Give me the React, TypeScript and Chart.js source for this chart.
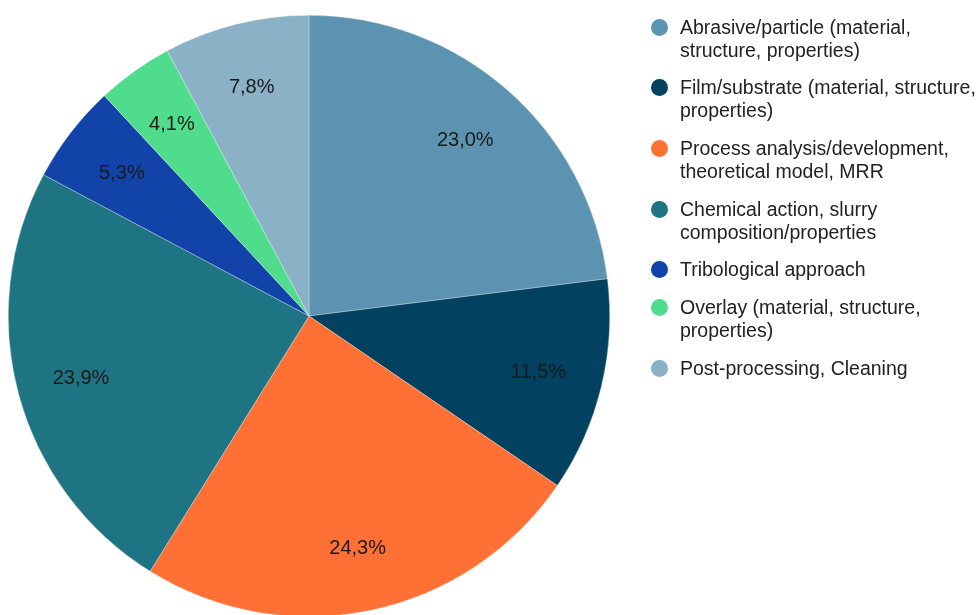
import React, { useEffect, useRef } from "react";
import { Chart, registerables } from "chart.js";

Chart.register(...registerables);

const labels = [
  "Abrasive/particle (material,\nstructure, properties)",
  "Film/substrate (material, structure,\nproperties)",
  "Process analysis/development,\ntheoretical model, MRR",
  "Chemical action, slurry\ncomposition/properties",
  "Tribological approach",
  "Overlay (material, structure,\nproperties)",
  "Post-processing, Cleaning",
];
const values = [23.0, 11.5, 24.3, 23.9, 5.3, 4.1, 7.8];
const colors = ["#5B93B1", "#02415F", "#FF7034", "#1F7483", "#1143A8", "#4FDC8C", "#8AB1C6"];

const FONT = "'Liberation Sans', Arial, sans-serif";

const labelPlugin = {
  id: "sliceLabels",
  afterDatasetsDraw(chart: any) {
    const ctx = chart.ctx;
    const meta = chart.getDatasetMeta(0);
    ctx.save();
    ctx.font = `20px ${FONT}`;
    ctx.fillStyle = "#1a1a1a";
    ctx.textAlign = "center";
    ctx.textBaseline = "middle";
    meta.data.forEach((arc: any, i: number) => {
      const { x, y, startAngle, endAngle, outerRadius } = arc.getProps(
        ["x", "y", "startAngle", "endAngle", "outerRadius"],
        true
      );
      const mid = (startAngle + endAngle) / 2;
      const r = outerRadius * 0.785;
      const txt = values[i].toFixed(1).replace(".", ",") + "%";
      ctx.fillText(txt, x + Math.cos(mid) * r, y + Math.sin(mid) * r + 1);
    });
    ctx.restore();
  },
};

export default function App() {
  const ref = useRef<HTMLCanvasElement>(null);
  useEffect(() => {
    if (!ref.current) return;
    const chart = new Chart(ref.current, {
      type: "pie",
      data: {
        labels,
        datasets: [
          {
            data: values,
            backgroundColor: colors,
            borderColor: "rgba(255,255,255,0.6)",
            borderWidth: 0.5,
          },
        ],
      },
      options: {
        animation: false,
        responsive: false,
        maintainAspectRatio: false,
        layout: { padding: { left: 8, top: 15, right: 370, bottom: 3 } },
        plugins: {
          legend: { display: false },
          tooltip: { enabled: false },
        },
      },
      plugins: [labelPlugin],
    });
    return () => chart.destroy();
  }, []);

  return (
    <div
      style={{
        position: "absolute",
        left: 0,
        top: 0,
        width: 980,
        height: 615,
        overflow: "hidden",
        background: "#fff",
      }}
    >
      <canvas ref={ref} width={980} height={620} style={{ position: "absolute", left: 0, top: 0 }} />
      <div
        style={{
          position: "absolute",
          left: 651,
          top: 15.5,
          fontFamily: FONT,
          fontSize: 19.5,
          color: "#222",
          lineHeight: "23px",
        }}
      >
        {labels.map((l, i) => (
          <div key={i} style={{ display: "flex", alignItems: "flex-start", marginBottom: 14.7 }}>
            <span
              style={{
                width: 17,
                height: 17,
                borderRadius: "50%",
                background: colors[i],
                marginTop: 3,
                flex: "none",
              }}
            />
            <span style={{ marginLeft: 12, whiteSpace: "pre" }}>{l}</span>
          </div>
        ))}
      </div>
    </div>
  );
}
